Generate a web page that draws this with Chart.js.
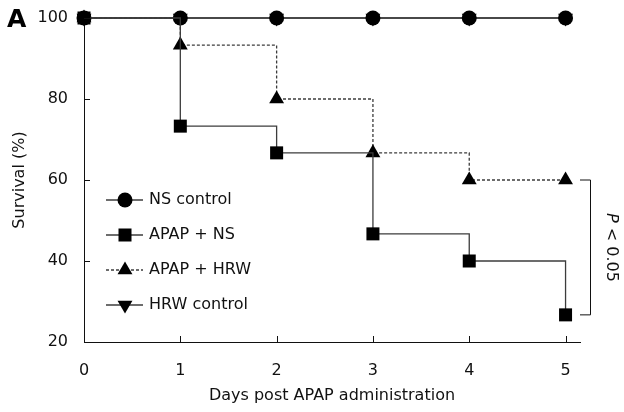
<!DOCTYPE html>
<html>
<head>
<meta charset="utf-8">
<script src="https://cdn.jsdelivr.net/npm/chart.js@4.4.1/dist/chart.umd.min.js"></script>
<style>
  html, body { margin: 0; padding: 0; background: #fff; }
  #wrap { width: 624px; height: 412px; position: relative; }
</style>
</head>
<body>
<div id="wrap"><canvas id="chart"></canvas></div>
<script>
const days = [0, 1, 2, 3, 4, 5];
const nsControl = [100, 100, 100, 100, 100, 100];
const apapNs = [100, 73.3, 66.7, 46.7, 40, 26.7];
const apapHrw = [100, 93.3, 80, 66.7, 60, 60];
const hrwControl = [100, 100, 100, 100, 100, 100];
const yTicks = [20, 40, 60, 80, 100];
const seriesNames = ['NS control', 'APAP + NS', 'APAP + HRW', 'HRW control'];

const FONT = "'DejaVu Sans', Verdana, sans-serif";
const INK = '#111';
const LINE = '#3c3c3c';

Chart.defaults.font.family = FONT;
Chart.defaults.font.size = 16;
Chart.defaults.color = INK;

const toPoints = vals => days.map((d, i) => ({ x: d, y: vals[i] }));

const styles = [
    { pointStyle: 'circle', radius: 7.5, rotation: 0, dash: [], order: 1 },
    { pointStyle: 'rect', radius: 9.2, rotation: 0, dash: [], order: 0 },
    { pointStyle: 'triangle', radius: 8.6, rotation: 0, dash: [3, 2], order: 2 },
    { pointStyle: 'triangle', radius: 8.6, rotation: 180, dash: [], order: 3 }
];

const datasets = [nsControl, apapNs, apapHrw, hrwControl].map((vals, i) => ({
    label: seriesNames[i],
    data: toPoints(vals),
    stepped: 'before',
    borderColor: LINE,
    borderWidth: 1.3,
    borderDash: styles[i].dash,
    backgroundColor: '#000',
    pointBackgroundColor: '#000',
    pointBorderWidth: 0,
    pointStyle: styles[i].pointStyle,
    pointRotation: styles[i].rotation,
    pointRadius: styles[i].radius,
    order: styles[i].order,
    clip: false,
    fill: false
}));

// legend drawn inside the plot, line + marker like the original figure
const insideLegend = {
    id: 'insideLegend',
    afterDraw(chart) {
        const ctx = chart.ctx;
        const x0 = 106, x1 = 143, xm = 125, xt = 149;
        let y = 200;
        ctx.save();
        seriesNames.forEach((name, i) => {
            const st = styles[i];
            ctx.strokeStyle = LINE;
            ctx.lineWidth = 1.3;
            ctx.setLineDash(st.dash);
            ctx.beginPath();
            ctx.moveTo(x0, y);
            ctx.lineTo(x1, y);
            ctx.stroke();
            ctx.setLineDash([]);
            ctx.fillStyle = '#000';
            ctx.strokeStyle = '#000';
            Chart.helpers.drawPoint(ctx, {
                pointStyle: st.pointStyle,
                rotation: st.rotation,
                radius: st.radius,
                borderWidth: 0
            }, xm, y);
            ctx.fillStyle = INK;
            ctx.font = '16px ' + FONT;
            ctx.textAlign = 'left';
            ctx.textBaseline = 'middle';
            ctx.fillText(name, xt, y);
            y += 35;
        });
        ctx.restore();
    }
};

// short ticks pointing into the plot, panel letter, significance bracket
const extras = {
    id: 'extras',
    afterDraw(chart) {
        const ctx = chart.ctx;
        const xs = chart.scales.x, ys = chart.scales.y;
        const area = chart.chartArea;
        ctx.save();
        ctx.strokeStyle = INK;
        ctx.lineWidth = 1;
        ctx.beginPath();
        days.slice(1).forEach(d => {
            const px = Math.round(xs.getPixelForValue(d)) + 0.5;
            ctx.moveTo(px, area.bottom);
            ctx.lineTo(px, area.bottom - 6);
        });
        yTicks.forEach(v => {
            const py = Math.round(ys.getPixelForValue(v)) + 0.5;
            ctx.moveTo(area.left, py);
            ctx.lineTo(area.left + 6, py);
        });
        ctx.stroke();

        // bracket between the two APAP groups on day 5
        const yTop = ys.getPixelForValue(apapHrw[5]);
        const yBot = ys.getPixelForValue(apapNs[5]);
        const bx = 590.5;
        ctx.beginPath();
        ctx.moveTo(580, yTop);
        ctx.lineTo(bx, yTop);
        ctx.lineTo(bx, yBot);
        ctx.lineTo(580, yBot);
        ctx.stroke();

        ctx.translate(611, (yTop + yBot) / 2);
        ctx.rotate(Math.PI / 2);
        ctx.fillStyle = INK;
        ctx.textBaseline = 'middle';
        ctx.font = 'italic 16px ' + FONT;
        const pW = ctx.measureText('P').width;
        ctx.font = '16px ' + FONT;
        const restW = ctx.measureText(' < 0.05').width;
        const start = -(pW + restW) / 2;
        ctx.font = 'italic 16px ' + FONT;
        ctx.textAlign = 'left';
        ctx.fillText('P', start, 0);
        ctx.font = '16px ' + FONT;
        ctx.fillText(' < 0.05', start + pW, 0);
        ctx.restore();

        ctx.save();
        ctx.fillStyle = '#000';
        ctx.font = 'bold 25px ' + FONT;
        ctx.textAlign = 'left';
        ctx.textBaseline = 'middle';
        ctx.fillText('A', 7, 20);
        ctx.restore();
    }
};

new Chart(document.getElementById('chart'), {
    type: 'line',
    data: { datasets },
    options: {
        responsive: true,
        maintainAspectRatio: false,
        animation: false,
        events: [],
        layout: { padding: { top: 18, right: 44, left: 0, bottom: 0 } },
        plugins: {
            legend: { display: false },
            tooltip: { enabled: false }
        },
        scales: {
            x: {
                type: 'linear',
                min: 0,
                max: 5.15,
                afterBuildTicks: scale => { scale.ticks = days.map(d => ({ value: d })); },
                afterFit: scale => {
                    scale.height = 70;
                    scale.paddingLeft = 0;
                    scale.paddingRight = 0;
                },
                grid: { display: true, drawOnChartArea: false, drawTicks: false },
                border: { display: true, color: INK, width: 1 },
                ticks: { padding: 19, color: INK, font: { size: 16 } },
                title: {
                    display: true,
                    text: 'Days post APAP administration',
                    color: INK,
                    font: { size: 16 },
                    padding: { top: 0, bottom: 7 }
                }
            },
            y: {
                min: 20,
                max: 100,
                afterBuildTicks: scale => { scale.ticks = yTicks.map(v => ({ value: v })); },
                afterFit: scale => {
                    scale.width = 84;
                    scale.paddingTop = 0;
                    scale.paddingBottom = 0;
                },
                grid: { display: true, drawOnChartArea: false, drawTicks: false },
                border: { display: true, color: INK, width: 1 },
                ticks: { padding: 16, color: INK, font: { size: 16 } },
                title: {
                    display: true,
                    text: 'Survival (%)',
                    color: INK,
                    font: { size: 16 },
                    padding: { top: 10, bottom: 0 }
                }
            }
        }
    },
    plugins: [insideLegend, extras]
});
</script>
</body>
</html>
